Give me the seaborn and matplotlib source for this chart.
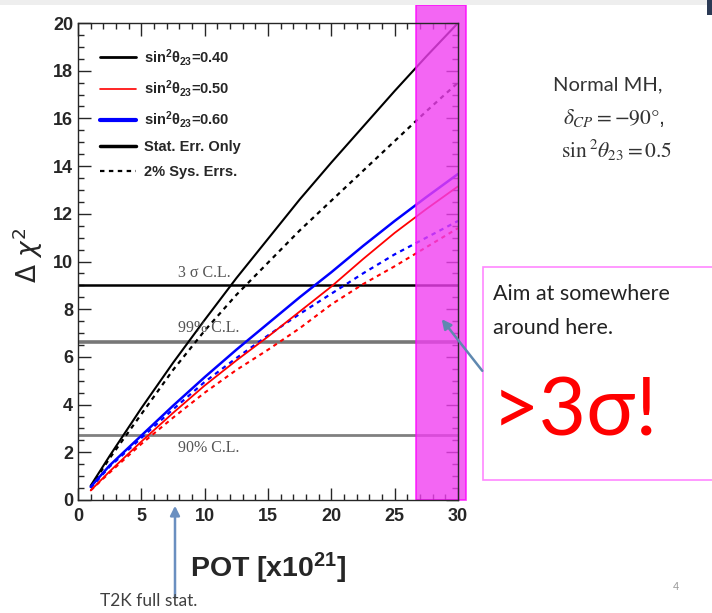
import matplotlib
matplotlib.use("Agg")
import matplotlib.pyplot as plt
from matplotlib.lines import Line2D
from matplotlib.patches import Rectangle, FancyArrowPatch
import numpy as np
import pandas as pd
import seaborn as sns

# POT sample points [x10^21]
pot = [1, 2.5, 5, 7.5, 10, 12.5, 15, 17.5, 20, 22.5, 25, 27.5, 30]

# Delta chi^2 curves (stat only / with 2% systematics)
s040_stat = [0.6, 1.85, 3.85, 5.75, 7.55, 9.3, 10.95, 12.6, 14.15, 15.65, 17.15, 18.6, 20.0]
s040_sys = [0.55, 1.75, 3.6, 5.45, 7.1, 8.6, 9.95, 11.3, 12.55, 13.8, 15.05, 16.3, 17.5]
s050_stat = [0.4, 1.2, 2.45, 3.65, 4.8, 5.85, 6.85, 7.9, 8.95, 10.1, 11.2, 12.2, 13.15]
s050_sys = [0.4, 1.15, 2.35, 3.45, 4.5, 5.45, 6.3, 7.2, 8.2, 9.05, 9.8, 10.6, 11.4]
s060_stat = [0.55, 1.45, 2.7, 3.95, 5.15, 6.3, 7.4, 8.5, 9.55, 10.65, 11.7, 12.7, 13.67]
s060_sys = [0.5, 1.4, 2.6, 3.8, 4.95, 5.95, 6.9, 7.8, 8.65, 9.5, 10.3, 11.0, 11.7]

# confidence-level reference lines
cl_values = [9.0, 6.63, 2.71]
cl_labels = ["3 σ C.L.", "99% C.L.", "90% C.L."]

legend_labels = [r"sin$^2\theta_{23}$=0.40", r"sin$^2\theta_{23}$=0.50",
                 r"sin$^2\theta_{23}$=0.60", "Stat. Err. Only", "2% Sys. Errs."]

t2k_full = 7.8
band_range = (26.7, 30.6)

sns.set_style("ticks")
plt.rcParams["font.family"] = ["Liberation Sans", "DejaVu Sans"]
plt.rcParams["mathtext.fontset"] = "custom"
plt.rcParams["mathtext.rm"] = "Liberation Sans:bold"
plt.rcParams["mathtext.it"] = "Liberation Sans:bold"

fig = plt.figure(figsize=(7.12, 6.13), dpi=100)
ax = fig.add_axes([78 / 712, 113 / 613, 380 / 712, 477 / 613])

series = [
    (s040_stat, "black", "-", 1.5),
    (s040_sys, "black", (0, (2, 2)), 1.6),
    (s060_stat, "#0000ff", "-", 1.8),
    (s060_sys, "#0000ff", (0, (2, 2)), 1.6),
    (s050_stat, "#ff0000", "-", 1.3),
    (s050_sys, "#ff0000", (0, (2, 2)), 1.5),
]
for vals, col, ls, lw in series:
    df = pd.DataFrame({"pot": pot, "dchi2": vals})
    sns.lineplot(data=df, x="pot", y="dchi2", color=col, linestyle=ls,
                 linewidth=lw, ax=ax, legend=False)

# confidence-level lines
for val, col, lw in zip(cl_values, ["black", "#777777", "#808080"], [1.8, 2.6, 2.0]):
    ax.axhline(val, color=col, linewidth=lw, zorder=1)
for lab, ypos in zip(cl_labels, [9.5, 7.2, 2.2]):
    ax.text(7.9, ypos, lab, family="Liberation Serif", fontsize=11.5,
            color="#555555", va="center")

# highlighted target region
band = Rectangle((band_range[0], 0), band_range[1] - band_range[0], 20.75,
                 facecolor="#f040f0", edgecolor="#ff00ff", linewidth=1.2,
                 alpha=0.8, clip_on=False, zorder=3)
ax.add_patch(band)

ax.set_xlim(0, 30)
ax.set_ylim(0, 20)
ax.set_xticks(range(0, 31, 5))
ax.set_xticks(range(0, 31, 1), minor=True)
ax.set_yticks(range(0, 21, 2))
ax.set_yticks(np.arange(0, 20.01, 0.5), minor=True)
ax.tick_params(which="both", direction="in", top=True, right=True)
ax.tick_params(which="major", length=9, width=1)
ax.tick_params(which="minor", length=4, width=1)
for lab in ax.get_xticklabels() + ax.get_yticklabels():
    lab.set_fontweight("bold")
    lab.set_fontsize(13)
ax.tick_params(axis="x", pad=6)
for sp in ax.spines.values():
    sp.set_linewidth(1)
    sp.set_zorder(5)
ax.set_xlabel("")
ax.set_ylabel("")

fig.text(28 / 712, 1 - 255 / 613, r"$\Delta\ \chi^2$", rotation=90, fontsize=19,
         ha="center", va="center", family="DejaVu Sans", math_fontfamily="dejavusans")
fig.text(268 / 712, 1 - 568 / 613, r"POT [x10$^{21}$]", fontsize=20.5,
         ha="center", va="center", fontweight="bold", family="Liberation Sans")

# legend
handles = [
    Line2D([], [], color="black", lw=2.0),
    Line2D([], [], color="#ff0000", lw=1.2),
    Line2D([], [], color="#0000ff", lw=3.0),
    Line2D([], [], color="black", lw=2.5),
    Line2D([], [], color="black", lw=1.6, ls=(0, (2, 2))),
]
leg = ax.legend(handles, legend_labels, loc="upper left", frameon=False,
                bbox_to_anchor=(0.058, 0.95), borderpad=0, borderaxespad=0,
                handlelength=2.5, handletextpad=0.5, labelspacing=0.7,
                prop={"weight": "bold", "size": 10.5})

# T2K full statistics marker
fig.add_artist(FancyArrowPatch((175 / 712, 1 - 600 / 613), (175 / 712, 1 - 503 / 613),
                               transform=fig.transFigure, arrowstyle="-|>",
                               mutation_scale=14, color="#6a8fc0", lw=1.8))
fig.text(100 / 712, 1 - 601 / 613, "T2K full stat.", fontsize=12.5,
         family="Lato", color="#404040", va="center")

# annotation on the right
fig.text(608 / 712, 1 - 85 / 613, "Normal MH,", fontsize=14.5, family="Lato",
         color="#333333", ha="center", va="center")
fig.text(614 / 712, 1 - 118 / 613, r"$\delta_{CP}=-90°$,", fontsize=15.5,
         color="#333333", ha="center", va="center", math_fontfamily="stix")
fig.text(617 / 712, 1 - 150 / 613, r"$\mathrm{sin}\,^2\theta_{23}=0.5$", fontsize=15.5,
         color="#333333", ha="center", va="center", math_fontfamily="stix")

fig.add_artist(Rectangle((483 / 712, 1 - 480 / 613), 230 / 712, 213 / 613,
                         transform=fig.transFigure, facecolor="white",
                         edgecolor="#ff88ff", lw=1.2))
fig.text(493 / 712, 1 - 294 / 613, "Aim at somewhere", fontsize=15.5,
         family="Lato", color="#222222", va="center")
fig.text(493 / 712, 1 - 328 / 613, "around here.", fontsize=15.5,
         family="Lato", color="#222222", va="center")
fig.text(492 / 712, 1 - 412 / 613, ">3σ!", fontsize=59, family=["Lato", "DejaVu Sans"],
         color="#ff0000", va="center")
fig.add_artist(FancyArrowPatch((484 / 712, 1 - 373 / 613), (440 / 712, 1 - 317 / 613),
                               transform=fig.transFigure, arrowstyle="-|>",
                               mutation_scale=14, color="#5f88b0", lw=1.8))

# slide header strip and page number
fig.add_artist(Rectangle((0, 1 - 5 / 613), 1, 5 / 613, transform=fig.transFigure,
                         facecolor="#eeeeee", edgecolor="none"))
fig.add_artist(Rectangle((707 / 712, 1 - 15 / 613), 5 / 712, 15 / 613,
                         transform=fig.transFigure, facecolor="#2b3a55", edgecolor="none"))
fig.text(676 / 712, 1 - 590 / 613, "4", fontsize=8, color="#999999", ha="center")

fig.savefig("out.png", dpi=100)
